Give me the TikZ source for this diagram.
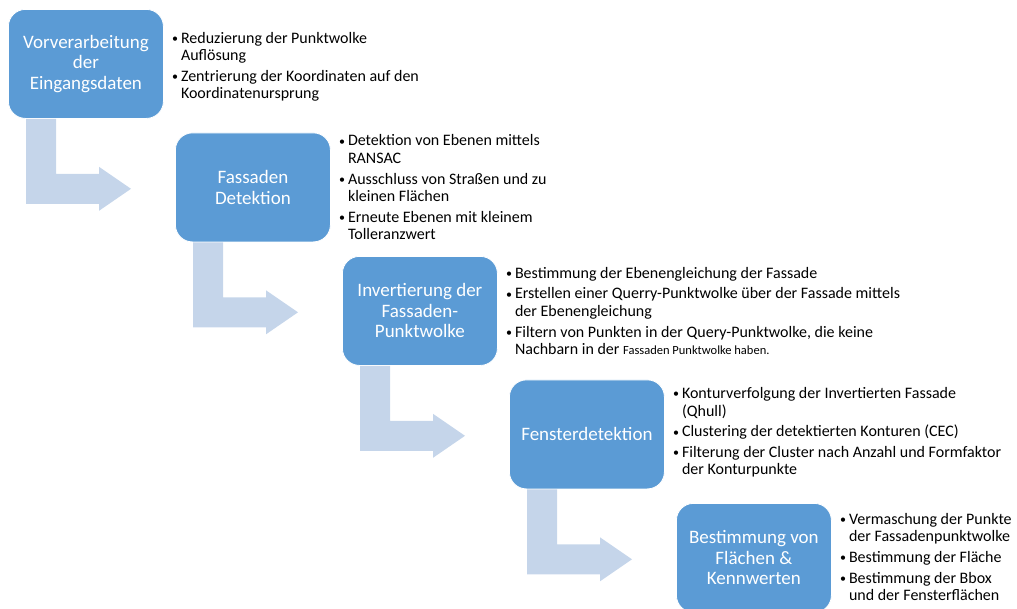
\documentclass[tikz,border=0pt]{standalone}
\usepackage{fontspec}
\setmainfont{Carlito}
\usetikzlibrary{calc}
\definecolor{boxblue}{HTML}{5B9BD5}
\definecolor{arrowblue}{HTML}{C5D5EA}
\newcommand{\bitem}[1]{\makebox[9pt][l]{\raisebox{0.5pt}{\fontsize{12}{12}\selectfont\textbullet}}#1}
\newcommand{\bcont}[1]{\hspace*{9pt}#1}
\tikzset{
  stepbox/.style={fill=boxblue, draw=white, line width=0.8pt, rounded corners=17pt,
    minimum width=155pt, minimum height=109pt, inner sep=0pt, anchor=north west,
    text=white, align=center, font=\fontsize{19}{20.5}\selectfont},
  bullets/.style={anchor=west, inner sep=0pt, align=left, text=black,
    font=\fontsize{16}{17.6}\selectfont},
  bentarrow/.style={fill=arrowblue, draw=none}
}
\newcommand{\bentarrow}[1]{%
  \fill[bentarrow] ($(#1.south west)+(18,0)$) -- ($(#1.south west)+(48,0)$)
    -- ($(#1.south west)+(48,55)$) -- ($(#1.south west)+(91,55)$)
    -- ($(#1.south west)+(91,48)$) -- ($(#1.south west)+(123,70)$)
    -- ($(#1.south west)+(91,92)$) -- ($(#1.south west)+(91,85)$)
    -- ($(#1.south west)+(18,85)$) -- cycle;}
\begin{document}
\begin{tikzpicture}[x=1pt,y=-1pt]
\useasboundingbox (0,0) rectangle (1017,608);
\node[stepbox] (b1) at (8,9) {Vorverarbeitung\\der\\Eingangsdaten};
\node[stepbox] (b2) at (175,132.5) {Fassaden\\Detektion};
\node[stepbox] (b3) at (342,256) {Invertierung der\\Fassaden-\\Punktwolke};
\node[stepbox] (b4) at (509,379.5) {Fensterdetektion};
\node[stepbox] (b5) at (676,503) {Bestimmung von\\Flächen \&\\Kennwerten};
\bentarrow{b1}
\bentarrow{b2}
\bentarrow{b3}
\bentarrow{b4}
\node[bullets] (t1) at ($(b1.east)+(8,3)$) {\bitem{Reduzierung der Punktwolke}\\\bcont{Auflösung}\\[3pt]
  \bitem{Zentrierung der Koordinaten auf den}\\\bcont{Koordinatenursprung}};
\node[bullets] (t2) at ($(b2.east)+(8,0)$) {\bitem{Detektion von Ebenen mittels}\\\bcont{RANSAC}\\[3pt]
  \bitem{Ausschluss von Straßen und zu}\\\bcont{kleinen Flächen}\\[3pt]
  \bitem{Erneute Ebenen mit kleinem}\\\bcont{Tolleranzwert}};
\node[bullets] (t3) at ($(b3.east)+(8,0)$) {\bitem{Bestimmung der Ebenengleichung der Fassade}\\[3pt]
  \bitem{Erstellen einer Querry-Punktwolke über der Fassade mittels}\\\bcont{der Ebenengleichung}\\[3pt]
  \bitem{Filtern von Punkten in der Query-Punktwolke, die keine}\\\bcont{Nachbarn in der {\fontsize{12.5}{14}\selectfont Fassaden Punktwolke haben.}}};
\node[bullets] (t4) at ($(b4.east)+(8,-2)$) {\bitem{Konturverfolgung der Invertierten Fassade}\\\bcont{(Qhull)}\\[3pt]
  \bitem{Clustering der detektierten Konturen (CEC)}\\[3pt]
  \bitem{Filterung der Cluster nach Anzahl und Formfaktor}\\\bcont{der Konturpunkte}};
\node[bullets] (t5) at ($(b5.east)+(8,-1)$) {\bitem{Vermaschung der Punkte}\\\bcont{der Fassadenpunktwolke}\\[3pt]
  \bitem{Bestimmung der Fläche}\\[3pt]
  \bitem{Bestimmung der Bbox}\\\bcont{und der Fensterflächen}};
\end{tikzpicture}
\end{document}
